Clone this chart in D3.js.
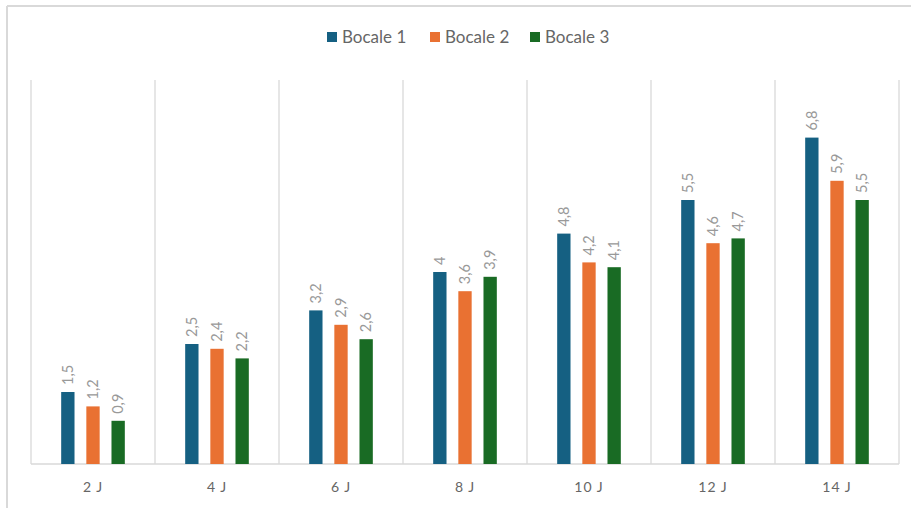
<!DOCTYPE html>
<html>
<head>
<meta charset="utf-8">
<script src="https://cdn.jsdelivr.net/npm/d3@7"></script>
<style>
  body { margin: 0; background: #fff; }
  svg { display: block; font-family: Lato, "Open Sans", sans-serif; }
</style>
</head>
<body>
<div id="chart"></div>
<script>
// data
var categories = ["2 J", "4 J", "6 J", "8 J", "10 J", "12 J", "14 J"];
var seriesNames = ["Bocale 1", "Bocale 2", "Bocale 3"];
var bocale1 = [1.5, 2.5, 3.2, 4, 4.8, 5.5, 6.8];
var bocale2 = [1.2, 2.4, 2.9, 3.6, 4.2, 4.6, 5.9];
var bocale3 = [0.9, 2.2, 2.6, 3.9, 4.1, 4.7, 5.5];
var colors = ["#156082", "#E97132", "#196B24"];

var W = 911, H = 508;
var margin = {top: 80, right: 12, bottom: 44, left: 31};
var width = W - margin.left - margin.right,
    height = H - margin.top - margin.bottom;

var svg = d3.select("#chart").append("svg")
    .attr("width", W).attr("height", H);

// outer frame (top and left only visible)
svg.append("line").attr("x1", 7).attr("x2", W).attr("y1", 6).attr("y2", 6)
    .attr("stroke", "#d9d9d9").attr("stroke-width", 2);
svg.append("line").attr("x1", 7).attr("x2", 7).attr("y1", 6).attr("y2", H)
    .attr("stroke", "#d9d9d9").attr("stroke-width", 2);

var g = svg.append("g")
    .attr("transform", "translate(" + margin.left + "," + margin.top + ")");

var x = d3.scaleBand().domain(categories).range([0, 868]).padding(0);
var y = d3.scaleLinear().domain([0, 8]).range([height, 0]);

var xs = d3.scaleBand().domain(seriesNames).range([0, x.bandwidth()])
    .paddingInner(0.47).paddingOuter(1.2);

// vertical gridlines between categories
var edges = categories.map(function(c) { return x(c); });
edges.push(x.range()[1]);
g.selectAll(".grid").data(edges).enter().append("line")
    .attr("x1", function(d) { return d; }).attr("x2", function(d) { return d; })
    .attr("y1", 0).attr("y2", height)
    .attr("stroke", "#d9d9d9").attr("stroke-width", 1.3);

// baseline
g.append("line").attr("x1", 0).attr("x2", x.range()[1])
    .attr("y1", height).attr("y2", height)
    .attr("stroke", "#d9d9d9").attr("stroke-width", 1.5);

var rows = [];
categories.forEach(function(c, i) {
    rows.push({cat: c, s: seriesNames[0], v: bocale1[i], k: 0});
    rows.push({cat: c, s: seriesNames[1], v: bocale2[i], k: 1});
    rows.push({cat: c, s: seriesNames[2], v: bocale3[i], k: 2});
});

g.selectAll(".bar").data(rows).enter().append("rect")
    .attr("x", function(d) { return x(d.cat) + xs(d.s); })
    .attr("width", xs.bandwidth())
    .attr("y", function(d) { return y(d.v); })
    .attr("height", function(d) { return height - y(d.v); })
    .attr("fill", function(d) { return colors[d.k]; });

// value labels, rotated
g.selectAll(".lbl").data(rows).enter().append("text")
    .attr("transform", function(d) {
        var cx = x(d.cat) + xs(d.s) + xs.bandwidth() / 2 + 5;
        return "translate(" + cx + "," + (y(d.v) - 7) + ") rotate(-90)";
    })
    .attr("text-anchor", "start")
    .attr("fill", "#999999")
    .style("font-size", "14.5px")
    .text(function(d) { return String(d.v).replace(".", ","); });

// x axis labels
g.selectAll(".xl").data(categories).enter().append("text")
    .attr("x", function(d) { return x(d) + x.bandwidth() / 2; })
    .attr("y", height + 28)
    .attr("text-anchor", "middle")
    .attr("fill", "#666666")
    .style("font-size", "14px")
    .style("letter-spacing", "1px")
    .text(function(d) { return d; });

// legend
var legX = [327, 430, 530];
var leg = svg.selectAll(".leg").data(seriesNames).enter().append("g")
    .attr("transform", function(d, i) { return "translate(" + legX[i] + ",32)"; });
leg.append("rect").attr("width", 10).attr("height", 10)
    .attr("fill", function(d, i) { return colors[i]; });
leg.append("text").attr("x", 15).attr("y", 11)
    .attr("fill", "#666666")
    .style("font-size", "17px")
    .text(function(d) { return d; });
</script>
</body>
</html>
